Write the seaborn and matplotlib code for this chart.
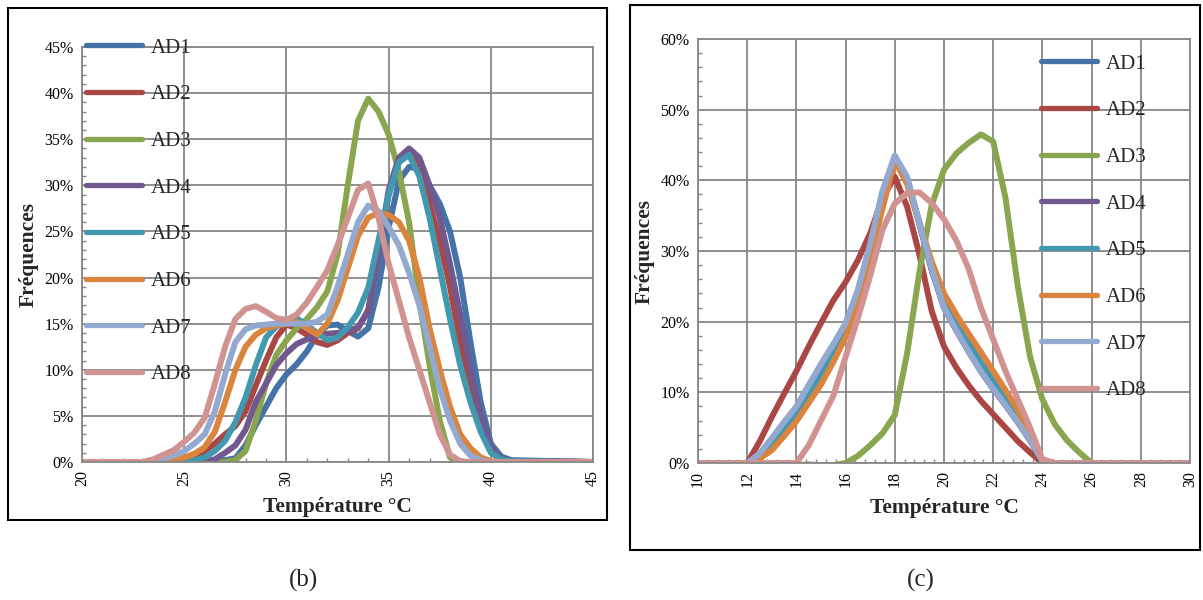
import numpy as np
import pandas as pd
import matplotlib
matplotlib.use("Agg")
import matplotlib.pyplot as plt
import seaborn as sns
from matplotlib.ticker import MultipleLocator, PercentFormatter
from matplotlib.patches import Rectangle

# ---- Données (fréquences en %) ----
SERIES = ["AD1", "AD2", "AD3", "AD4", "AD5", "AD6", "AD7", "AD8"]
COULEURS = ["#4572A7", "#AA4643", "#89A54E", "#71588F",
            "#4198AF", "#DB843D", "#93A9CF", "#D19392"]

# (b) température de 20 à 45 °C
TEMP_B = [20, 23, 23.5, 24, 24.5, 25, 25.5, 26, 26.5, 27, 27.5, 28, 28.5, 29, 29.5,
          30, 30.5, 31, 31.5, 32, 32.5, 33, 33.5, 34, 34.5, 35, 35.5, 36, 36.5,
          37, 37.5, 38, 38.5, 39, 39.5, 40, 40.5, 41, 45]
AD1_B = [0, 0, 0, 0, 0, 0, 0, 0, 0.1, 0.2, 0.4, 1.8, 4, 6, 8,
         9.5, 10.6, 12, 13.8, 14.8, 14.9, 14.2, 13.6, 14.5, 18.9, 25.4, 30.5, 32, 31.8,
         30, 28, 25, 20, 13, 6.5, 2, 0.6, 0.2, 0]
AD2_B = [0, 0, 0, 0, 0, 0.1, 0.3, 1.2, 2, 3, 3.9, 5.5, 8.3, 11, 13.5,
         14.9, 14.5, 13.8, 13, 12.7, 13.2, 14, 14.5, 16.5, 22.5, 29, 32.5, 33.7, 32.5,
         28, 24, 19, 13, 8.5, 4, 1.2, 0.3, 0.1, 0]
AD3_B = [0, 0, 0, 0, 0, 0, 0, 0, 0, 0, 0.2, 1.2, 4.5, 8.5, 11.6,
         13.2, 14.5, 15.5, 16.8, 18.5, 22.5, 30, 37, 39.4, 38, 35.5, 31.5, 26, 17.5,
         10.5, 4.5, 0.5, 0, 0, 0, 0, 0, 0, 0]
AD4_B = [0, 0, 0, 0, 0, 0, 0, 0, 0.3, 1, 1.8, 3.5, 6.5, 8.5, 10.5,
         11.8, 12.8, 13.3, 13.7, 13.9, 14, 14.2, 14.6, 16.3, 22.5, 29.5, 33, 34, 33,
         30, 26.5, 21.5, 16, 10, 5, 1.5, 0.4, 0.1, 0]
AD5_B = [0, 0, 0, 0, 0, 0, 0.2, 0.5, 1.2, 2.3, 4.3, 7, 10.5, 13.5, 14.7,
         15.2, 15.6, 14.8, 14, 13.2, 13.5, 14.6, 16.2, 18.9, 24, 29, 32.5, 33.3, 31,
         26.5, 21, 15.5, 10.5, 6.5, 3.3, 1, 0.3, 0.1, 0]
AD6_B = [0, 0, 0, 0.1, 0.2, 0.5, 0.9, 1.6, 3.3, 6.5, 10, 12.5, 13.8, 14.5, 14.8,
         15, 15.2, 14.6, 13.8, 15, 17.5, 21, 24.5, 26.5, 27, 26.8, 26, 24, 20,
         14.5, 10, 6, 3, 1.5, 0.5, 0.1, 0, 0, 0]
AD7_B = [0, 0, 0.2, 0.4, 0.7, 1.2, 2, 3, 5.5, 9.5, 13, 14.4, 14.8, 14.9, 15,
         15, 15, 15, 15.2, 16, 19, 22.5, 26, 27.8, 27.2, 25.5, 23.5, 20.5, 17,
         12.5, 8, 4.5, 2, 0.7, 0.2, 0, 0, 0, 0]
AD8_B = [0, 0, 0.3, 0.8, 1.3, 2.2, 3.2, 4.8, 8.5, 12.5, 15.5, 16.6, 16.9, 16.3, 15.6,
         15.4, 16, 17.3, 19, 20.8, 23.5, 26.5, 29.5, 30.2, 26.5, 21.5, 17.5, 13.5, 10,
         6.5, 3, 0.8, 0.1, 0, 0, 0, 0, 0, 0]

# (c) température de 10 à 30 °C
TEMP_C = [10, 12, 12.5, 13, 13.5, 14, 14.5, 15, 15.5, 16, 16.5, 17, 17.5, 18, 18.5,
          19, 19.5, 20, 20.5, 21, 21.5, 22, 22.5, 23, 23.5, 24, 24.5, 25, 25.5, 26, 30]
AD1_C = [0, 0, 1.2, 3.3, 5.6, 7.8, 10.8, 13.8, 16.6, 19.5, 24.2, 30.7, 38.2, 43.2, 40.2,
         33.8, 27.3, 22, 18.8, 15.8, 13, 10.5, 8.2, 5.8, 3.2, 0.3, 0, 0, 0, 0, 0]
AD2_C = [0, 0, 3, 6.5, 9.8, 13, 16.5, 19.8, 23, 25.6, 28.7, 32.5, 37.5, 40.5, 36.3,
         29.5, 21.5, 16.5, 13.5, 11, 8.8, 6.9, 5, 3.1, 1.5, 0, 0, 0, 0, 0, 0]
AD3_C = [0, 0, -0.3, -0.4, -0.4, -0.3, -0.2, -0.3, -0.3, 0, 1, 2.5, 4.2, 6.8, 15.5,
         27, 36.5, 41.5, 43.8, 45.3, 46.5, 45.5, 37.5, 25, 15, 9, 5.5, 3.2, 1.5, 0, 0]
AD4_C = [0, 0, 1.2, 3.4, 5.7, 7.9, 10.9, 13.9, 16.7, 19.6, 24.3, 30.8, 38.3, 43.3, 40.3,
         33.9, 27.4, 22, 18.8, 15.8, 13, 10.5, 8.2, 5.8, 3.2, 0.3, 0, 0, 0, 0, 0]
AD5_C = [0, 0, 1, 2.7, 4.8, 7, 9.8, 12.6, 15.5, 18.8, 23.5, 30, 37.5, 43, 40,
         34, 28, 23, 19.8, 17, 14.3, 11.8, 9.3, 6.8, 3.7, 0.4, 0, 0, 0, 0, 0]
AD6_C = [0, 0, 0.6, 1.8, 3.8, 5.9, 8.5, 11.1, 14.3, 17.8, 22.5, 29, 36, 42.8, 39.5,
         34, 28.5, 24, 21, 18.3, 15.7, 13, 10.3, 7.5, 4.2, 0.5, 0, 0, 0, 0, 0]
AD7_C = [0, 0, 1.3, 3.5, 5.8, 8, 11, 14, 16.8, 19.8, 24.5, 31, 38.5, 43.5, 40.5,
         34, 27.5, 22, 18.8, 15.8, 13, 10.5, 8.2, 5.8, 3.2, 0.3, 0, 0, 0, 0, 0]
AD8_C = [0, 0, 0, 0, 0, 0, 2.5, 6, 9.5, 15, 20.5, 26.5, 33, 36.7, 38.2,
         38.3, 36.8, 34.5, 31.5, 27.5, 22, 17.5, 13, 9, 5, 0.5, 0, 0, 0, 0, 0]


def table(temp, valeurs):
    frames = []
    for nom, v in zip(SERIES, valeurs):
        frames.append(pd.DataFrame({"Température": temp, "Fréquence": v, "Série": nom}))
    return pd.concat(frames, ignore_index=True)


df_b = table(TEMP_B, [AD1_B, AD2_B, AD3_B, AD4_B, AD5_B, AD6_B, AD7_B, AD8_B])
df_c = table(TEMP_C, [AD1_C, AD2_C, AD3_C, AD4_C, AD5_C, AD6_C, AD7_C, AD8_C])

sns.set_theme(style="white")
plt.rcParams["font.family"] = ["Liberation Serif", "DejaVu Serif"]

fig = plt.figure(figsize=(12.03, 6.0), dpi=100)
ax_b = fig.add_axes([0.0682, 0.23, 0.4248, 0.6917])
ax_c = fig.add_axes([0.5802, 0.2283, 0.409, 0.7067])


def tracer(ax, df, xlim, ylim, xmaj, xmin, ymaj, ymin, leg_pos):
    sns.lineplot(data=df, x="Température", y="Fréquence", hue="Série",
                 palette=COULEURS, estimator=None, sort=False, linewidth=4.3,
                 ax=ax, legend=False)
    for ln in ax.get_lines():
        ln.set_solid_capstyle("round")
        ln.set_solid_joinstyle("round")
    ax.set_xlim(*xlim)
    ax.set_ylim(*ylim)
    ax.xaxis.set_major_locator(MultipleLocator(xmaj))
    ax.xaxis.set_minor_locator(MultipleLocator(xmin))
    ax.yaxis.set_major_locator(MultipleLocator(ymaj))
    ax.yaxis.set_minor_locator(MultipleLocator(ymin))
    ax.yaxis.set_major_formatter(PercentFormatter(xmax=100, decimals=0))
    ax.grid(True, which="major", color="#878787", linewidth=1.3)
    ax.set_axisbelow(True)
    for sp in ax.spines.values():
        sp.set_color("#878787")
        sp.set_linewidth(1.3)
    ax.tick_params(which="major", length=0, labelsize=11.5, pad=6, colors="black")
    ax.tick_params(which="minor", direction="in", length=3, color="#878787",
                   width=1, bottom=True, left=True)
    ax.tick_params(axis="x", labelrotation=90)
    ax.set_xlabel("Température °C", fontsize=15.5, fontweight="bold", labelpad=8)
    ax.set_ylabel("Fréquences", fontsize=15.5, fontweight="bold", labelpad=4)
    leg = ax.legend(ax.get_lines(), SERIES, loc="upper left", bbox_to_anchor=leg_pos,
                    bbox_transform=fig.transFigure, frameon=False, fontsize=15,
                    handlelength=2.7, handletextpad=0.4, labelspacing=1.3,
                    borderpad=0, borderaxespad=0)
    for h in leg.get_lines():
        h.set_linewidth(3.8)


tracer(ax_b, df_b, (20, 45), (0, 45), 5, 1, 5, 1, (86 / 1203, 1 - 38 / 600))
tracer(ax_c, df_c, (10, 30), (0, 60), 2, 0.4, 10, 2, (1041 / 1203, 1 - 54 / 600))

# cadres des deux panneaux
fig.add_artist(Rectangle((0.0067, 0.1333), 0.4979, 0.8534, transform=fig.transFigure,
                         fill=False, edgecolor="black", linewidth=1.5))
fig.add_artist(Rectangle((0.5237, 0.0833), 0.4738, 0.9084, transform=fig.transFigure,
                         fill=False, edgecolor="black", linewidth=1.5))

fig.text(303 / 1203, 1 - 580 / 600, "(b)", ha="center", va="center", fontsize=18)
fig.text(921 / 1203, 1 - 580 / 600, "(c)", ha="center", va="center", fontsize=18)

fig.savefig("out.png", dpi=100, facecolor="white")
